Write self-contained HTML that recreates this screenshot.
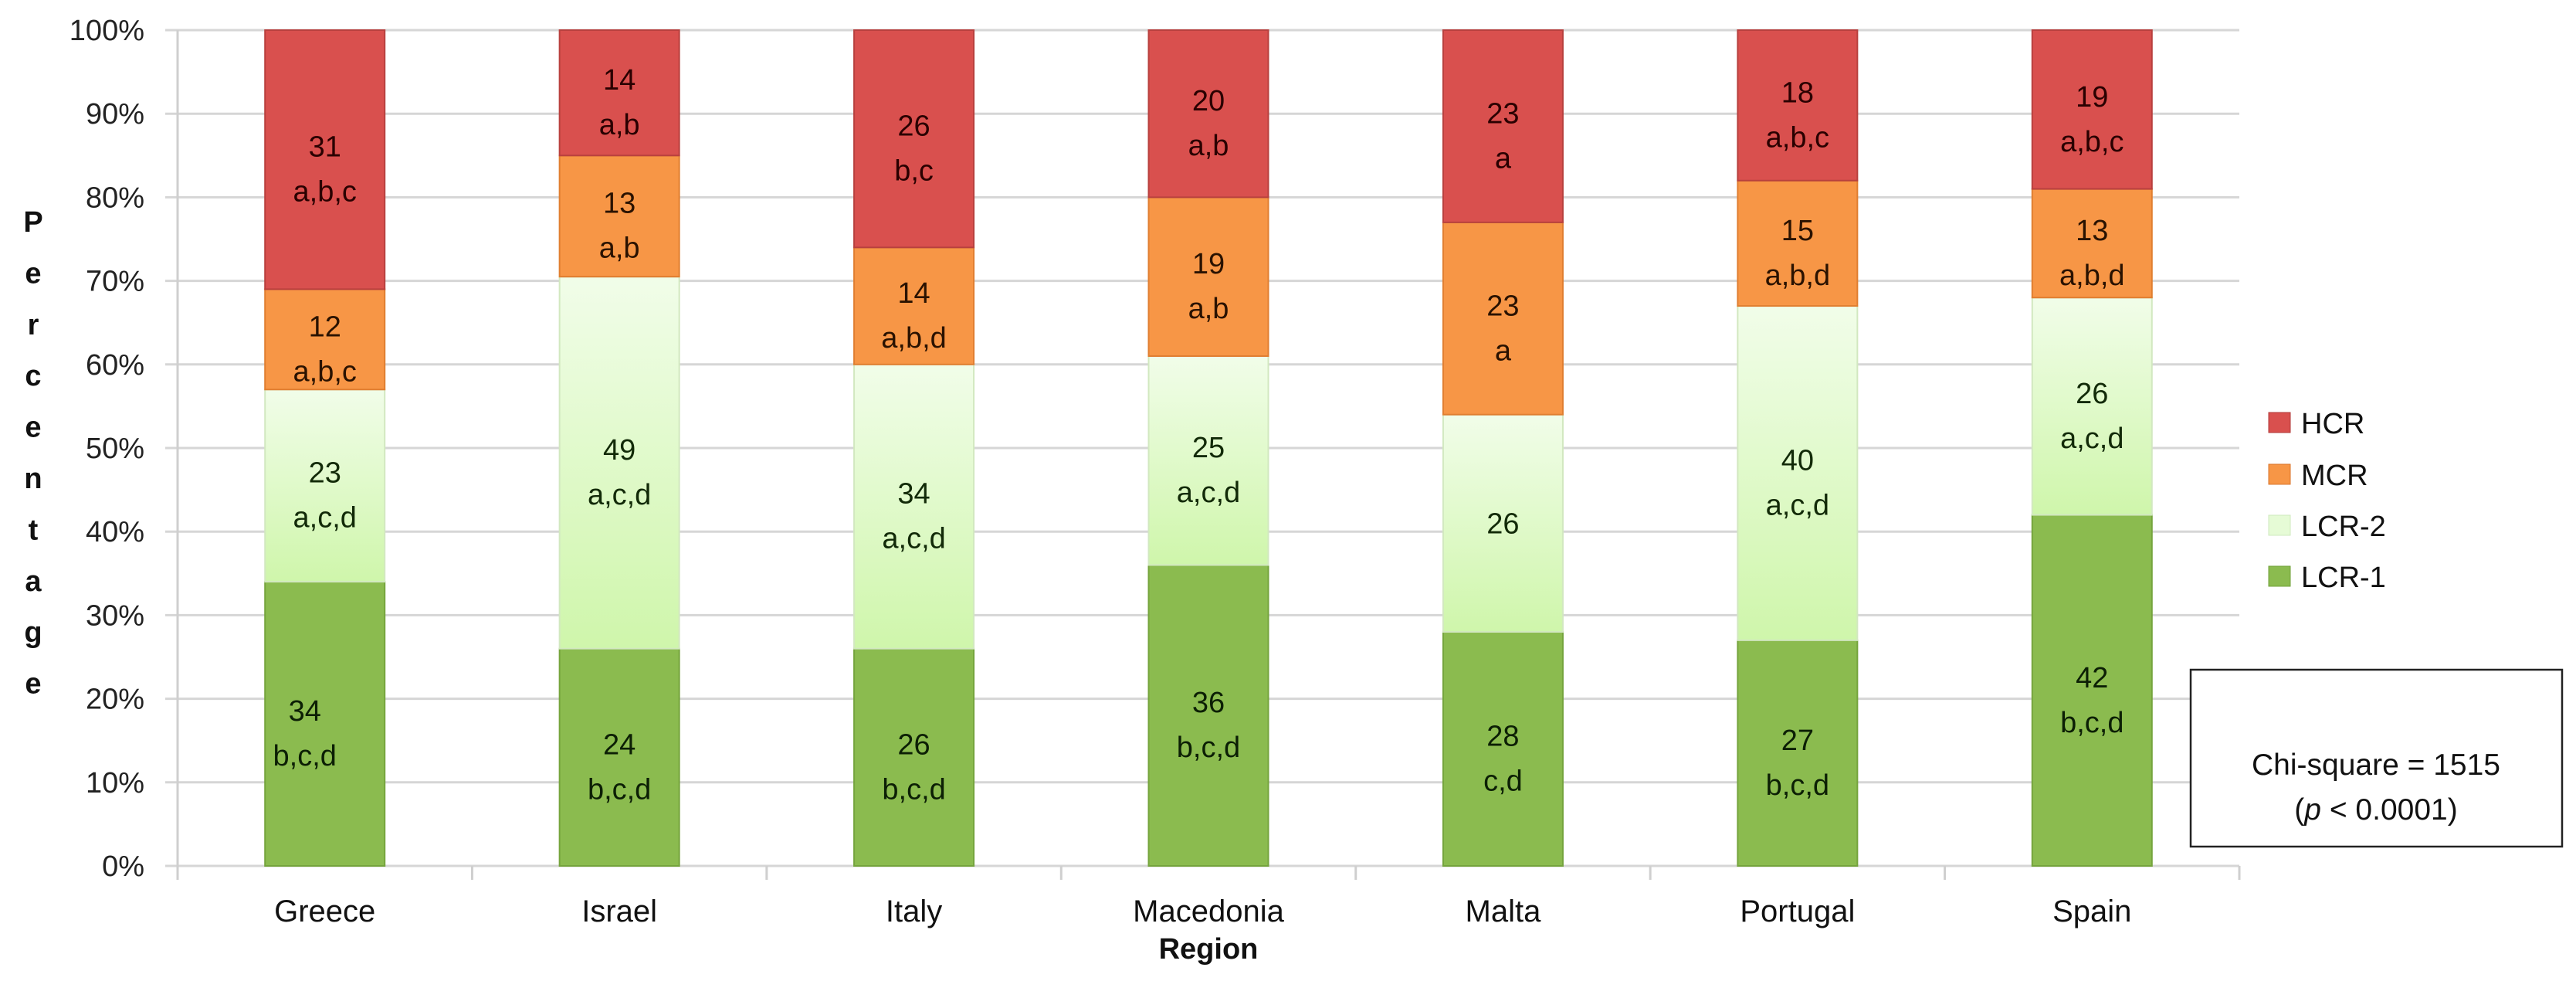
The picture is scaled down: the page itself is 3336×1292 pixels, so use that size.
<!DOCTYPE html>
<html><head><meta charset="utf-8"><style>
html,body{margin:0;padding:0;background:#fff;}
svg{display:block;}
text{font-family:"Liberation Sans",sans-serif;}
</style></head><body>
<svg id="chart" width="3336" height="1292" viewBox="0 0 3336 1292" xmlns="http://www.w3.org/2000/svg">
<defs>
<linearGradient id="lcr2grad" x1="0" y1="0" x2="0" y2="1">
<stop offset="0" stop-color="#f1fde9"/><stop offset="1" stop-color="#cff6ab"/>
</linearGradient>
</defs>
<g id="grid"></g>
<g id="bars"></g>
<g id="axes"></g>
<g id="ylabels"></g>
<g id="xlabels"></g>
<g id="ytitle"></g>
<text x="1565" y="1241" font-size="38" font-weight="bold" text-anchor="middle" fill="#111">Region</text>
<g>
<g><rect x="2938" y="534" width="28" height="26" fill="#d9504e" stroke="#b03a38" stroke-width="1"/><text x="2980" y="561" font-size="38" fill="#111">HCR</text></g>
<g><rect x="2938" y="601" width="28" height="26" fill="#f79646" stroke="#d9762c" stroke-width="1"/><text x="2980" y="628" font-size="38" fill="#111">MCR</text></g>
<g><rect x="2938" y="667" width="28" height="26" fill="#e6fbd6" stroke="#cfe8bd" stroke-width="1"/><text x="2980" y="694" font-size="38" fill="#111">LCR-2</text></g>
<g><rect x="2938" y="733" width="28" height="26" fill="#8bbb4f" stroke="#70a03a" stroke-width="1"/><text x="2980" y="760" font-size="38" fill="#111">LCR-1</text></g>
</g>
<g>
<rect x="2837" y="867" width="481" height="229" fill="#fff" stroke="#222" stroke-width="2.5"/>
<text x="3077" y="1003" font-size="39" text-anchor="middle" fill="#111">Chi-square = 1515</text>
<text x="3077" y="1061" font-size="39" text-anchor="middle" fill="#111">(<tspan font-style="italic">p</tspan> &lt; 0.0001)</text>
</g>
</svg>
<script>
const categories = ["Greece","Israel","Italy","Macedonia","Malta","Portugal","Spain"];
const seriesNames = ["LCR-1","LCR-2","MCR","HCR"];
const lcr1 = [34, 26, 26, 36, 28, 27, 42];
const lcr2 = [23, 44.5, 34, 25, 26, 40, 26];
const mcr = [12, 14.5, 14, 19, 23, 15, 13];
const hcr = [31, 15, 26, 20, 23, 18, 19];
const lcr1Labels = ["34","24","26","36","28","27","42"];
const lcr2Labels = ["23","49","34","25","26","40","26"];
const mcrLabels = ["12","13","14","19","23","15","13"];
const hcrLabels = ["31","14","26","20","23","18","19"];
const lcr1Letters = ["b,c,d","b,c,d","b,c,d","b,c,d","c,d","b,c,d","b,c,d"];
const lcr2Letters = ["a,c,d","a,c,d","a,c,d","a,c,d","","a,c,d","a,c,d"];
const mcrLetters = ["a,b,c","a,b","a,b,d","a,b","a","a,b,d","a,b,d"];
const hcrLetters = ["a,b,c","a,b","b,c","a,b","a","a,b,c","a,b,c"];
const yTicks = [0,10,20,30,40,50,60,70,80,90,100];
const yTitle = "Percentage";

const NS="http://www.w3.org/2000/svg";
const plotL=230, plotR=2900, plotT=39, plotB=1121;
const band=(plotR-plotL)/categories.length, barW=155;
function y(v){return plotB-(v/100)*(plotB-plotT);}
function xc(i){return plotL+band*(i+0.5);}
function mk(tag,attrs,parent){const e=document.createElementNS(NS,tag);for(const k in attrs)e.setAttribute(k,attrs[k]);parent.appendChild(e);return e;}

const grid=document.getElementById('grid');
yTicks.forEach(t=>{
  const l=mk('line',{x1:plotL-16,x2:plotR,y1:y(t),y2:y(t),stroke:'#d6d6d6','stroke-width':3},grid);
  
  
});
const axes=document.getElementById('axes');
const ya=mk('line',{x1:plotL,x2:plotL,y1:plotT,y2:plotB+18,stroke:'#cfcfcf','stroke-width':3},axes);


for(let i=0;i<=categories.length;i++){
  const tk=mk('line',{x1:plotL+band*i,x2:plotL+band*i,y1:plotB,y2:plotB+18,stroke:'#cfcfcf','stroke-width':3},axes);
  
  
}
const yl=document.getElementById('ylabels');
yTicks.forEach(t=>{
  const tx=mk('text',{x:187,y:y(t)+13,'font-size':38,'text-anchor':'end',fill:'#222'},yl);
  tx.textContent=t+'%';
  
  
});
const yt=document.getElementById('ytitle');
yTitle.split('').forEach((c,i)=>{
  const tx=mk('text',{x:43,y:300+i*66.4,'font-size':38,'font-weight':'bold','text-anchor':'middle',fill:'#111'},yt);
  tx.textContent=c;
  
  
});
const xl=document.getElementById('xlabels');
categories.forEach((c,i)=>{
  const tx=mk('text',{x:xc(i),y:1193,'font-size':40,'text-anchor':'middle',fill:'#111'},xl);
  tx.textContent=c;
  
  
});

const series=[
 {name:'lcr-1',vals:lcr1,labs:lcr1Labels,lets:lcr1Letters,fill:'#8bbb4f',stroke:'#75a43d',tc:'#0c1f05'},
 {name:'lcr-2',vals:lcr2,labs:lcr2Labels,lets:lcr2Letters,fill:'url(#lcr2grad)',stroke:'#d2e8c0',tc:'#122a08'},
 {name:'mcr',vals:mcr,labs:mcrLabels,lets:mcrLetters,fill:'#f79646',stroke:'#e07e30',tc:'#2a1200'},
 {name:'hcr',vals:hcr,labs:hcrLabels,lets:hcrLetters,fill:'#d9504e',stroke:'#b8403e',tc:'#2a0000'}
];
const bars=document.getElementById('bars');
categories.forEach((c,i)=>{
  let base=0;
  series.forEach((s,si)=>{
    const v=s.vals[i];
    const y0=y(base), y1=y(base+v);
    const r=mk('rect',{x:xc(i)-barW/2,y:y1,width:barW,height:y0-y1,fill:s.fill,stroke:s.stroke,'stroke-width':2},bars);
    
    
    const mid=(y0+y1)/2;
    const shift=(i===0&&si===0)?-26:0;
    const hasLet=s.lets[i]!=='';
    const t1=mk('text',{x:xc(i)+shift,y:hasLet?mid-4:mid+13,'font-size':38,'text-anchor':'middle',fill:s.tc},bars);
    t1.textContent=s.labs[i];
    
    
    if(hasLet){
      const t2=mk('text',{x:xc(i)+shift,y:mid+54,'font-size':38,'text-anchor':'middle',fill:s.tc},bars);
      t2.textContent=s.lets[i];
      
      
    }
    base+=v;
  });
});
</script>
</body></html>
